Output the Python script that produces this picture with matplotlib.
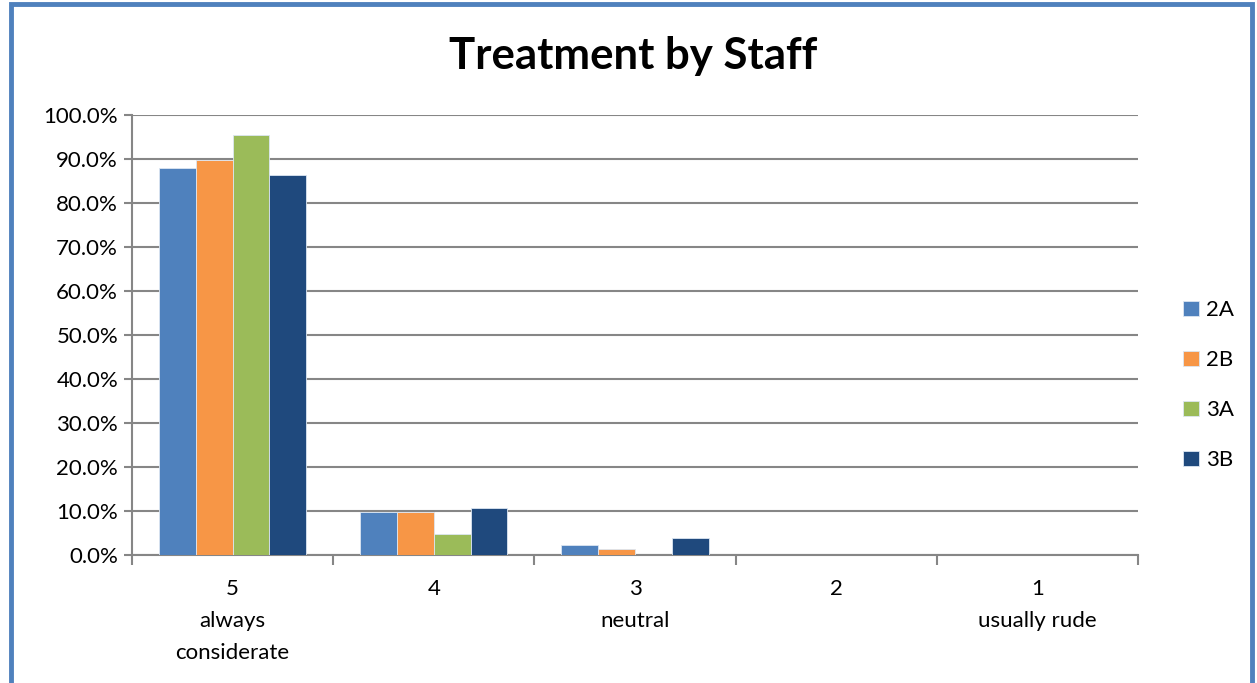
import numpy as np
import matplotlib.pyplot as plt
from matplotlib.patches import Rectangle
from matplotlib.ticker import PercentFormatter

plt.rcParams['font.family'] = ['Lato', 'DejaVu Sans']

# Survey responses, share of each class per rating
categories = ['5\nalways\nconsiderate', '4', '3\nneutral', '2', '1\nusually rude']
share_2a = [88.0, 9.8, 2.2, 0.0, 0.0]
share_2b = [89.8, 9.8, 1.3, 0.0, 0.0]
share_3a = [95.4, 4.7, 0.0, 0.0, 0.0]
share_3b = [86.3, 10.6, 3.8, 0.0, 0.0]
series_names = ['2A', '2B', '3A', '3B']
colors = ['#4F81BD', '#F79646', '#9BBB59', '#1F497D']

fig = plt.figure(figsize=(12.57, 6.83), dpi=100)

# outer chart frame
fig.patches.append(Rectangle((0.0085, -0.02), 0.9875, 1.0145, transform=fig.transFigure,
                             fill=False, edgecolor='#4F81BD', linewidth=3.5))

ax = fig.add_axes([0.105, 0.1874, 0.8003, 0.6442])

x = np.arange(len(categories))
width = 0.183
all_series = [share_2a, share_2b, share_3a, share_3b]
for i, (vals, name, c) in enumerate(zip(all_series, series_names, colors)):
    ax.bar(x + (i - 1.5) * width, vals, width, color=c, label=name,
           edgecolor='#dce6f2', linewidth=0.6, zorder=3)

ax.set_xlim(-0.5, len(categories) - 0.5)
ax.set_ylim(0, 100)
ax.set_yticks(np.arange(0, 101, 10))
ax.yaxis.set_major_formatter(PercentFormatter(decimals=1))
ax.grid(axis='y', color='#868686', linewidth=1.5, zorder=0)

# ticks at the category boundaries, labels at the centres
ax.set_xticks(np.arange(-0.5, len(categories), 1.0))
ax.set_xticklabels([])
ax.set_xticks(x, minor=True)
ax.set_xticklabels(categories, minor=True, fontsize=16, linespacing=1.75, va='top')
ax.tick_params(axis='x', which='major', length=7, width=1.5, color='#868686', direction='out')
ax.tick_params(axis='x', which='minor', length=0, pad=17)
ax.tick_params(axis='y', length=6, width=1.5, color='#868686', labelsize=16, pad=4)

for side in ['top', 'right']:
    ax.spines[side].set_visible(False)
for side in ['left', 'bottom']:
    ax.spines[side].set_color('#868686')
    ax.spines[side].set_linewidth(1.5)
ax.set_axisbelow(True)

fig.text(0.5035, 0.918, 'Treatment by Staff', ha='center', va='center',
         fontsize=31.5, fontweight='bold')

ax.legend(loc='center left', bbox_to_anchor=(1.025, 0.386), frameon=False, fontsize=16,
          handlelength=0.7, handleheight=0.7, handletextpad=0.35, labelspacing=1.35)

fig.savefig('out.png', dpi=100)
